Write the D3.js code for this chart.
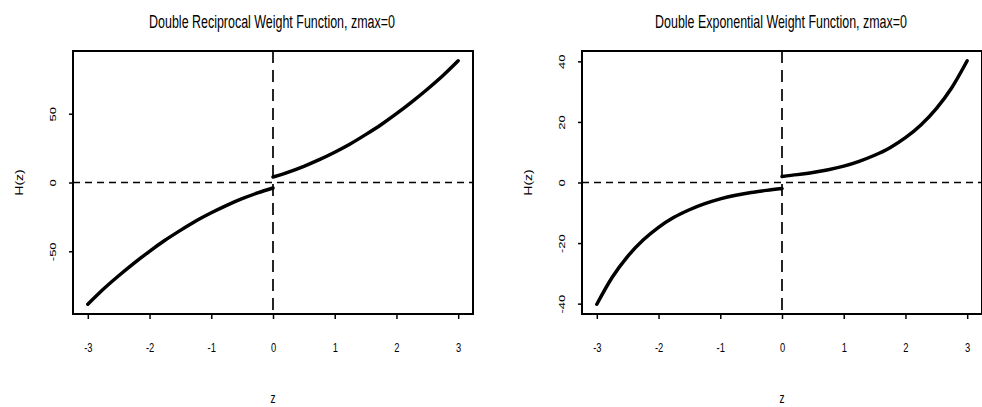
<!DOCTYPE html>
<html>
<head>
<meta charset="utf-8">
<script src="https://cdn.jsdelivr.net/npm/d3@7"></script>
<style>
  body { margin: 0; background: #fff; }
  text { font-family: "Liberation Sans", Arial, sans-serif; fill: #000; }
</style>
</head>
<body>
<div id="chart"></div>
<script>
// Data
const zLeft = [-3, -2.75, -2.5, -2.25, -2, -1.75, -1.5, -1.25, -1, -0.75, -0.5, -0.25, 0];
const zRight = [0, 0.25, 0.5, 0.75, 1, 1.25, 1.5, 1.75, 2, 2.25, 2.5, 2.75, 3];

const reciprocalLeft = [-88.5, -77.6, -67.8, -58.6, -50, -42, -34.8, -28, -22, -16.6, -11.8, -7.6, -4];
const reciprocalRight = [4, 7.6, 11.8, 16.6, 22, 28, 34.8, 42, 50, 58.6, 67.8, 77.6, 88.5];

const exponentialLeft = [-40.2, -31.3, -24.4, -19.0, -14.8, -11.5, -9.0, -7.0, -5.4, -4.2, -3.3, -2.6, -2.0];
const exponentialRight = [2.0, 2.6, 3.3, 4.2, 5.4, 7.0, 9.0, 11.5, 14.8, 19.0, 24.4, 31.3, 40.2];

const xTicks = [-3, -2, -1, 0, 1, 2, 3];
const yTicksReciprocal = [-50, 0, 50];
const yTicksExponential = [-40, -20, 0, 20, 40];

const titles = ["Double Reciprocal Weight Function, zmax=0", "Double Exponential Weight Function, zmax=0"];

const width = 982;
const height = 407;

const svg = d3.select("#chart")
    .append("svg")
    .attr("width", width)
    .attr("height", height);

const panels = [
    { title: titles[0], left: reciprocalLeft, right: reciprocalRight, yTicks: yTicksReciprocal, x0: 73, titleW: 246 },
    { title: titles[1], left: exponentialLeft, right: exponentialRight, yTicks: yTicksExponential, x0: 582, titleW: 252 }
];

const squeeze = 0.72; // text in the picture is narrow
const plain = d => String(d); // hyphen minus like the original

panels.forEach(p => {
    const top = 51, bottom = 314;
    const x1 = p.x0 + 400;

    // R style 4% padding around the data
    const zExt = d3.extent(zLeft.concat(zRight));
    const zPad = (zExt[1] - zExt[0]) * 0.04;
    const hExt = d3.extent(p.left.concat(p.right));
    const hPad = (hExt[1] - hExt[0]) * 0.04;

    const x = d3.scaleLinear().domain([zExt[0] - zPad, zExt[1] + zPad]).range([p.x0, x1]);
    const y = d3.scaleLinear().domain([hExt[0] - hPad, hExt[1] + hPad]).range([bottom, top]);

    const g = svg.append("g");

    // Title, squeezed to the width seen in the picture
    const title = g.append("text")
        .attr("text-anchor", "middle")
        .attr("font-size", 18)
        .text(p.title);
    const tw = title.node().getComputedTextLength();
    title.attr("transform", `translate(${(p.x0 + x1) / 2 - 1},28) scale(${p.titleW / tw},1)`);

    // Reference lines
    g.append("line")
        .attr("x1", p.x0).attr("x2", x1)
        .attr("y1", y(0)).attr("y2", y(0))
        .attr("stroke", "#000").attr("stroke-width", 1.7)
        .attr("stroke-dasharray", "7,5");
    g.append("line")
        .attr("x1", x(0)).attr("x2", x(0))
        .attr("y1", top).attr("y2", bottom)
        .attr("stroke", "#000").attr("stroke-width", 1.7)
        .attr("stroke-dasharray", "12,7");

    // Curves
    const line = d3.line()
        .x(d => x(d[0]))
        .y(d => y(d[1]))
        .curve(d3.curveMonotoneX);

    [d3.zip(zLeft, p.left), d3.zip(zRight, p.right)].forEach(pts => {
        g.append("path")
            .attr("d", line(pts))
            .attr("fill", "none")
            .attr("stroke", "#000")
            .attr("stroke-width", 3.5)
            .attr("stroke-linecap", "round");
    });

    // Box
    g.append("rect")
        .attr("x", p.x0).attr("y", top)
        .attr("width", x1 - p.x0).attr("height", bottom - top)
        .attr("fill", "none")
        .attr("stroke", "#000")
        .attr("stroke-width", 2);

    // X axis
    const xAxis = g.append("g")
        .attr("transform", `translate(0,${bottom})`)
        .call(d3.axisBottom(x).tickValues(xTicks).tickSize(5).tickPadding(24).tickFormat(plain));
    xAxis.select(".domain").remove();
    xAxis.selectAll(".tick line").attr("stroke-width", 1.5);
    xAxis.selectAll("text")
        .attr("font-size", 13)
        .attr("font-family", "Liberation Sans, Arial, sans-serif")
        .attr("transform", `scale(${squeeze},1)`);

    // Y axis
    const yAxis = g.append("g")
        .attr("transform", `translate(${p.x0},0)`)
        .call(d3.axisLeft(y).tickValues(p.yTicks).tickSize(4).tickFormat(plain));
    yAxis.select(".domain").remove();
    yAxis.selectAll(".tick line").attr("stroke-width", 1.5);
    yAxis.selectAll("text")
        .attr("font-size", 13)
        .attr("font-family", "Liberation Sans, Arial, sans-serif")
        .attr("x", null).attr("dy", null)
        .attr("text-anchor", "middle")
        .attr("transform", `translate(-17,0) scale(${squeeze},1) rotate(-90)`);

    // Axis titles
    g.append("text")
        .attr("transform", `translate(${p.x0 - 50},${(top + bottom) / 2}) scale(${squeeze},1) rotate(-90)`)
        .attr("text-anchor", "middle")
        .attr("font-size", 14)
        .text("H(z)");
    g.append("text")
        .attr("transform", `translate(${x(0)},403) scale(${squeeze},1)`)
        .attr("text-anchor", "middle")
        .attr("font-size", 14)
        .text("z");
});
</script>
</body>
</html>
